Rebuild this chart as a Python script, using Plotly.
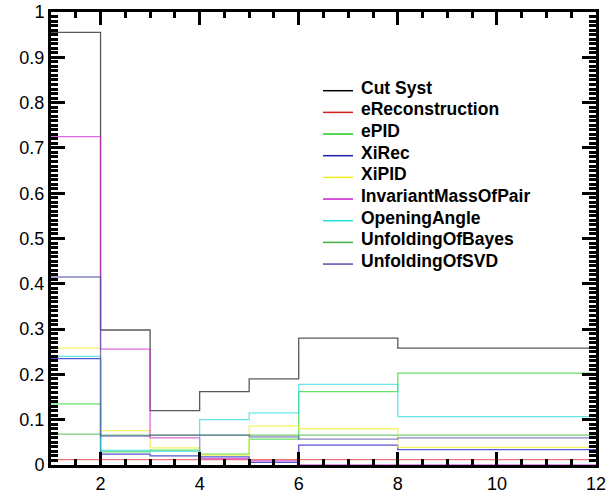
import plotly.graph_objects as go

# Bin edges of the histograms (x axis)
bin_edges = [1, 2, 3, 4, 5, 6, 8, 12]

# Systematic uncertainty per bin for each source
cut_syst = [0.955, 0.298, 0.120, 0.162, 0.190, 0.280, 0.258]
e_reconstruction = [0.012, 0.012, 0.012, 0.012, 0.012, 0.012, 0.012]
e_pid = [0.135, 0.029, 0.033, 0.024, 0.057, 0.162, 0.203]
xi_rec = [0.235, 0.024, 0.020, 0.018, 0.006, 0.044, 0.034]
xi_pid = [0.258, 0.076, 0.038, 0.022, 0.086, 0.080, 0.039]
invariant_mass_of_pair = [0.725, 0.256, 0.060, 0.014, 0.009, 0.0, 0.0]
opening_angle = [0.240, 0.032, 0.030, 0.100, 0.115, 0.178, 0.107]
unfolding_bayes = [0.068, 0.066, 0.066, 0.066, 0.066, 0.066, 0.066]
unfolding_svd = [0.415, 0.064, 0.066, 0.066, 0.062, 0.057, 0.060]

series = [
    ("Cut Syst", cut_syst, "rgba(60,60,60,0.85)", "black"),
    ("eReconstruction", e_reconstruction, "rgba(230,60,60,0.7)", "#cc2020"),
    ("ePID", e_pid, "rgba(40,210,40,0.7)", "#20cc20"),
    ("XiRec", xi_rec, "rgba(30,30,190,0.75)", "#2020aa"),
    ("XiPID", xi_pid, "rgba(240,240,40,0.7)", "#eeee20"),
    ("InvariantMassOfPair", invariant_mass_of_pair, "rgba(210,40,210,0.7)", "#cc20cc"),
    ("OpeningAngle", opening_angle, "rgba(40,220,220,0.7)", "#20dddd"),
    ("UnfoldingOfBayes", unfolding_bayes, "rgba(60,180,60,0.7)", "#40b040"),
    ("UnfoldingOfSVD", unfolding_svd, "rgba(80,80,170,0.7)", "#5050aa"),
]

# Plot-area geometry in pixels, used to place the compact legend
FIG_W, FIG_H = 611, 499
M_L, M_R, M_T, M_B = 51, 15, 12, 34
PLOT_W = FIG_W - M_L - M_R
PLOT_H = FIG_H - M_T - M_B


def px_x(px):
    return (px - M_L) / PLOT_W


def px_y(py):
    return (FIG_H - M_B - py) / PLOT_H


LEG_LINE_X0, LEG_LINE_X1, LEG_TEXT_X = 323, 353, 359
LEG_Y0, LEG_STEP = 90.7, 21.67

fig = go.Figure()
shapes, annotations = [], []
for i, (name, vals, line_col, legend_col) in enumerate(series):
    # step histogram: repeat the last bin content at the upper edge
    fig.add_trace(go.Scatter(
        x=bin_edges,
        y=list(vals) + [vals[-1]],
        mode="lines",
        line=dict(shape="hv", color=line_col, width=1.3),
        name=name,
        showlegend=False,
        hoverinfo="skip",
    ))
    ly = LEG_Y0 + LEG_STEP * i
    shapes.append(dict(
        type="line", xref="paper", yref="paper",
        x0=px_x(LEG_LINE_X0), x1=px_x(LEG_LINE_X1),
        y0=px_y(ly), y1=px_y(ly),
        line=dict(color=legend_col, width=1.5),
    ))
    annotations.append(dict(
        xref="paper", yref="paper",
        x=px_x(LEG_TEXT_X), y=px_y(ly - 3),
        xanchor="left", yanchor="middle",
        text=name, showarrow=False,
        font=dict(family="Liberation Sans", size=17.5, color="black", weight="bold"),
    ))

axis_common = dict(
    showline=True, linewidth=3, linecolor="black", mirror="ticks",
    ticks="inside", tickwidth=3, tickcolor="black",
    showgrid=False, zeroline=False, automargin=False,
    tickfont=dict(family="Liberation Sans", size=18, color="black"),
)

fig.update_xaxes(
    range=[1, 12], tick0=0, dtick=2, ticklen=13,
    minor=dict(dtick=0.5, ticklen=6, tickwidth=2.5, tickcolor="black", ticks="inside"),
    **axis_common,
)
fig.update_yaxes(
    range=[0, 1], tick0=0, dtick=0.1, ticklen=14,
    minor=dict(dtick=0.01, ticklen=7, tickwidth=2.5, tickcolor="black", ticks="inside"),
    **axis_common,
)

fig.update_layout(
    width=FIG_W, height=FIG_H,
    margin=dict(l=M_L, r=M_R, t=M_T, b=M_B),
    plot_bgcolor="white", paper_bgcolor="white",
    showlegend=False,
    shapes=shapes,
    annotations=annotations,
)

fig.write_html("out.html")
